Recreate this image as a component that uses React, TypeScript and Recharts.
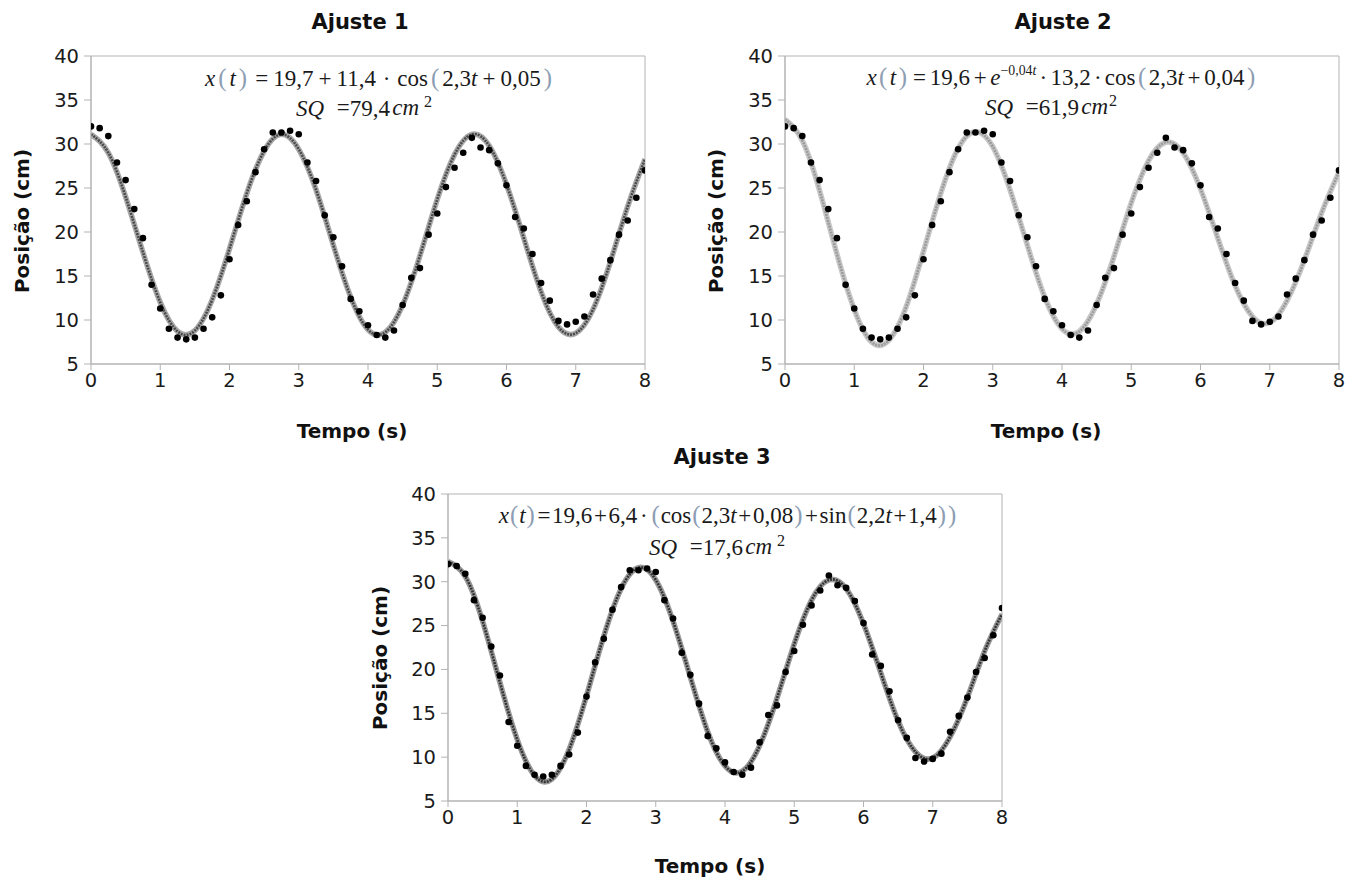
import React from 'react';
import { ComposedChart, Line, Scatter, XAxis, YAxis, ReferenceArea } from 'recharts';

// medidas (a cada 0,125 s)
const tempo = [
  0, 0.125, 0.25, 0.375, 0.5, 0.625, 0.75, 0.875, 1, 1.125, 1.25, 1.375, 1.5, 1.625, 1.75, 1.875,
  2, 2.125, 2.25, 2.375, 2.5, 2.625, 2.75, 2.875, 3, 3.125, 3.25, 3.375, 3.5, 3.625, 3.75, 3.875,
  4, 4.125, 4.25, 4.375, 4.5, 4.625, 4.75, 4.875, 5, 5.125, 5.25, 5.375, 5.5, 5.625, 5.75, 5.875,
  6, 6.125, 6.25, 6.375, 6.5, 6.625, 6.75, 6.875, 7, 7.125, 7.25, 7.375, 7.5, 7.625, 7.75, 7.875, 8,
];
const posicao = [
  32.0, 31.8, 30.9, 27.9, 25.9, 22.6, 19.3, 14.0, 11.3, 9.0, 8.0, 7.8, 8.0, 9.0, 10.3, 12.8,
  16.9, 20.8, 23.5, 26.8, 29.4, 31.3, 31.3, 31.5, 31.1, 27.9, 25.8, 21.9, 19.4, 16.1, 12.4, 11.0,
  9.4, 8.3, 8.0, 8.8, 11.7, 14.8, 15.9, 19.7, 22.1, 25.1, 27.3, 29.0, 30.7, 29.6, 29.3, 27.8,
  25.3, 21.7, 20.4, 17.5, 14.2, 12.2, 9.9, 9.5, 9.8, 10.4, 12.9, 14.7, 16.8, 19.7, 21.3, 23.9, 27.0,
];

// curvas ajustadas, lidas a cada 0,25 s
const tempoAjuste = [
  0, 0.25, 0.5, 0.75, 1, 1.25, 1.5, 1.75, 2, 2.25, 2.5, 2.75, 3, 3.25, 3.5, 3.75,
  4, 4.25, 4.5, 4.75, 5, 5.25, 5.5, 5.75, 6, 6.25, 6.5, 6.75, 7, 7.25, 7.5, 7.75, 8,
];
const ajuste1 = [
  31.1, 29.0, 24.0, 17.7, 12.0, 8.7, 8.8, 12.3, 18.1, 24.4, 29.2, 31.1, 29.4, 24.8, 18.5, 12.6,
  8.9, 8.6, 11.7, 17.3, 23.7, 28.8, 31.1, 29.8, 25.4, 19.3, 13.2, 9.2, 8.5, 11.2, 16.6, 22.9, 28.3,
];
const ajuste2 = [
  32.8, 30.4, 24.7, 17.5, 11.2, 7.5, 7.7, 11.5, 17.8, 24.4, 29.5, 31.4, 29.7, 24.8, 18.5, 12.6,
  9.0, 8.7, 11.8, 17.2, 23.3, 28.1, 30.2, 29.0, 24.9, 19.3, 13.9, 10.4, 9.7, 12.2, 16.8, 22.2, 26.8,
];
const ajuste3 = [
  32.3, 30.6, 25.5, 18.5, 12.0, 7.9, 7.5, 10.9, 17.0, 23.8, 29.2, 31.6, 30.2, 25.5, 19.1, 12.9,
  9.0, 8.4, 11.3, 16.7, 22.9, 27.9, 30.2, 29.2, 25.2, 19.6, 14.1, 10.6, 9.9, 12.3, 16.8, 22.1, 26.3,
];

const ticksTempo = [0, 1, 2, 3, 4, 5, 6, 7, 8];
const ticksPosicao = [5, 10, 15, 20, 25, 30, 35, 40];

const pontos = tempo.map((t, i) => ({ t, x: posicao[i] }));
const curva = (v: number[]) => tempoAjuste.map((t, i) => ({ t, x: v[i] }));

const PLOT_W = 554;
const Y_AXIS_W = 91;
const X_AXIS_H = 40;
const MARGIN_TOP = 56;
const SANS = '"DejaVu Sans", sans-serif';
const SERIF = '"Liberation Serif", serif';
const GRID = '#b3b3b3';

const ponto = (p: any) => <circle cx={p.cx} cy={p.cy} r={3.3} fill="#000" />;

function Painel({ left, top, plotH, valores, core, halo }: any) {
  const dados = curva(valores);
  const tick = { fontFamily: SANS, fontSize: 19.5, fill: '#1a1a1a' };
  return (
    <div style={{ position: 'absolute', left, top }}>
      <ComposedChart
        width={Y_AXIS_W + PLOT_W + 20}
        height={MARGIN_TOP + plotH + X_AXIS_H}
        margin={{ top: MARGIN_TOP, right: 20, bottom: 0, left: 0 }}
      >
        <XAxis type="number" dataKey="t" domain={[0, 8]} ticks={ticksTempo} interval={0}
          height={X_AXIS_H} stroke={GRID} tickSize={6} tickMargin={3} tick={tick} allowDataOverflow />
        <YAxis type="number" domain={[5, 40]} ticks={ticksPosicao} interval={0}
          width={Y_AXIS_W} stroke={GRID} tickSize={7} tickMargin={5} tick={tick} allowDataOverflow />
        <ReferenceArea x1={0} x2={8} y1={5} y2={40} fill="none" stroke={GRID} strokeWidth={1} />
        <Line data={dados} dataKey="x" type="natural" stroke={halo} strokeWidth={5.5}
          dot={false} activeDot={false} isAnimationActive={false} />
        <Line data={dados} dataKey="x" type="natural" stroke={core} strokeWidth={2.6}
          strokeDasharray="2 1" dot={false} activeDot={false} isAnimationActive={false} />
        <Scatter data={pontos} dataKey="x" fill="#000" shape={ponto} isAnimationActive={false} />
      </ComposedChart>
    </div>
  );
}

function Txt({ x, y, children, style }: any) {
  return (
    <div style={{
      position: 'absolute', left: x, top: y, transform: 'translate(-50%, -50%)',
      whiteSpace: 'nowrap', lineHeight: 1, ...style,
    }}>{children}</div>
  );
}

function Rot({ x, y, children }: any) {
  return (
    <div style={{
      position: 'absolute', left: x, top: y, transform: 'translate(-50%, -50%) rotate(-90deg)',
      whiteSpace: 'nowrap', lineHeight: 1, fontFamily: SANS, fontWeight: 'bold', fontSize: 20, color: '#111',
    }}>{children}</div>
  );
}

// espaçamentos da fórmula controlados por variáveis CSS de cada linha
const P = ({ c }: any) => (
  <span style={{ color: '#8d9db3', margin: '0 var(--par)', fontSize: '1.08em' }}>{c}</span>
);
const O = ({ c }: any) => <span style={{ margin: '0 var(--op)' }}>{c}</span>;
const D = () => <span style={{ margin: '0 var(--dot)' }}>·</span>;

const eq = (op: string, par: string, dot: string): any => ({
  fontFamily: SERIF, fontSize: 23, color: '#1a1a1a', '--op': op, '--par': par, '--dot': dot,
});
const eqStyle = { fontFamily: SERIF, fontSize: 23, color: '#1a1a1a' };
const titulo = { fontFamily: SANS, fontWeight: 'bold', fontSize: 21, color: '#111' };
const eixo = { fontFamily: SANS, fontWeight: 'bold', fontSize: 20, color: '#111' };

function Sq({ v, gap }: any) {
  return (
    <>
      <i>SQ</i><span style={{ marginLeft: '0.55em' }}>=</span>{v}<i style={{ marginLeft: '0.1em' }}>cm</i>
      <sup style={{ fontSize: '0.7em', marginLeft: gap ? '0.3em' : '0.05em', verticalAlign: '0.5em' }}>2</sup>
    </>
  );
}

export default function App() {
  return (
    <div style={{ position: 'absolute', left: 0, top: 0, width: 1360, height: 881, background: '#fff', overflow: 'hidden' }}>
      {/* Ajuste 1 */}
      <Painel left={0} top={0} plotH={308} valores={ajuste1} core="#4a4a4a" halo="#a9a9a9" />
      <Txt x={360} y={22} style={titulo}>Ajuste 1</Txt>
      <Rot x={22} y={221}>Posição (cm)</Rot>
      <Txt x={352} y={431} style={eixo}>Tempo (s)</Txt>
      <Txt x={380} y={78} style={eq('0.22em', '0.12em', '0.3em')}>
        <i>x</i><P c="(" /><i>t</i><P c=")" /><O c="=" />19,7<O c="+" />11,4<D />cos<P c="(" />2,3<i>t</i><O c="+" />0,05<P c=")" />
      </Txt>
      <Txt x={364} y={107} style={eqStyle}><Sq v="79,4" gap /></Txt>

      {/* Ajuste 2 */}
      <Painel left={694} top={0} plotH={308} valores={ajuste2} core="#9a9a9a" halo="#c8c8c8" />
      <Txt x={1063} y={22} style={titulo}>Ajuste 2</Txt>
      <Rot x={716} y={221}>Posição (cm)</Rot>
      <Txt x={1046} y={431} style={eixo}>Tempo (s)</Txt>
      <Txt x={1062} y={77} style={eq('0.16em', '0.1em', '0.14em')}>
        <i>x</i><P c="(" /><i>t</i><P c=")" /><O c="=" />19,6<O c="+" /><i>e</i>
        <sup style={{ fontSize: '0.6em', verticalAlign: '0.75em' }}>−0,04<i>t</i></sup><D />13,2<D />cos<P c="(" />2,3<i>t</i><O c="+" />0,04<P c=")" />
      </Txt>
      <Txt x={1051} y={106} style={eqStyle}><Sq v="61,9" /></Txt>

      {/* Ajuste 3 */}
      <Painel left={357} top={438} plotH={307} valores={ajuste3} core="#333333" halo="#9a9a9a" />
      <Txt x={722} y={457} style={titulo}>Ajuste 3</Txt>
      <Rot x={380} y={658}>Posição (cm)</Rot>
      <Txt x={710} y={866} style={eixo}>Tempo (s)</Txt>
      <Txt x={728} y={515} style={eq('0.07em', '0.04em', '0.12em')}>
        <i>x</i><P c="(" /><i>t</i><P c=")" /><O c="=" />19,6<O c="+" />6,4<D /><P c="(" />cos<P c="(" />2,3<i>t</i><O c="+" />0,08<P c=")" />
        <O c="+" />sin<P c="(" />2,2<i>t</i><O c="+" />1,4<P c=")" /><P c=")" />
      </Txt>
      <Txt x={717} y={546} style={eqStyle}><Sq v="17,6" gap /></Txt>
    </div>
  );
}
